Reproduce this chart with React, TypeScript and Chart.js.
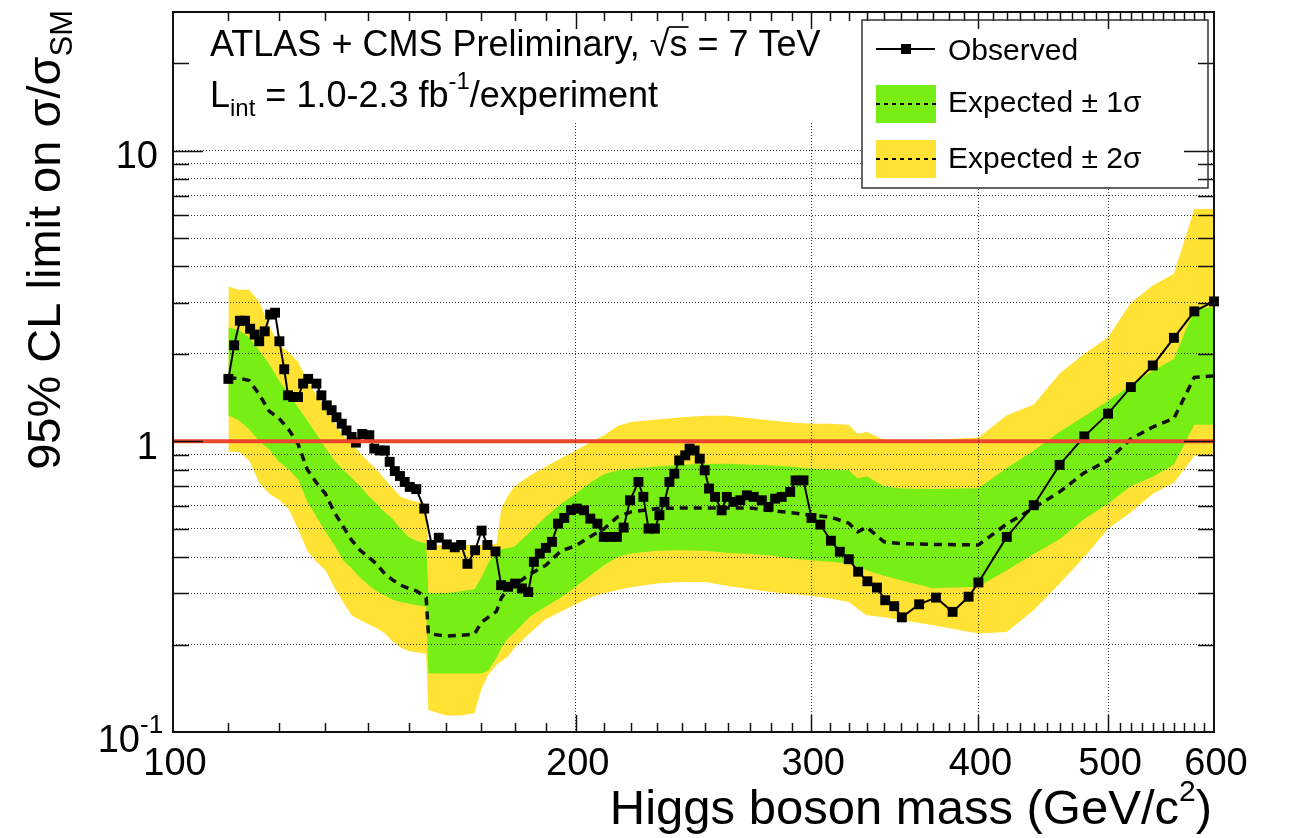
import React, { useEffect, useRef } from "react";
import { Chart, registerables } from "chart.js";

Chart.register(...registerables);

// ---------------- data ----------------
const obsMass = [
  110, 111.1, 112.2, 113.2, 114.2, 115.1, 116.0, 117.1, 118.2, 119.2, 120.1, 121.1, 121.9, 123.0, 124.0,
  125.1, 126.2, 128.0, 129.1, 130.3, 131.4, 132.5, 133.7, 134.8, 136.0, 137.0, 138.5, 140.2, 141.4, 142.8,
  144.0, 145.2, 146.5, 147.8, 149.0, 150.3, 152.0, 154.1, 156.1, 158.0, 160.2, 162.4, 164.2, 166.0, 168.2,
  170.1, 171.8, 174.2, 175.9, 178.0, 180.2, 182.3, 184.3, 186.1, 188.0, 190.0, 192.0, 194.0, 196.1, 198.4,
  200.4, 202.9, 205.1, 207.6, 209.9, 212.3, 214.7, 217.2, 219.6, 222.8, 224.7, 226.7, 229.2, 231.0, 233.0,
  235.0, 237.0, 239.0, 241.5, 243.3, 245.4, 247.6, 249.7, 251.6, 254.2, 257.1, 259.4, 262.4, 265.5, 268.5,
  271.7, 275.5, 278.7, 281.9, 285.1, 289.3, 292.0, 296.0, 300.1, 304.7, 310.3, 315.1, 320.0, 325.2, 330.4,
  335.9, 340.7, 346.0, 350.6, 361.2, 371.8, 382.6, 393.3, 400, 420, 440, 460, 480, 500, 520, 540, 560, 580, 600,
];
const obsLimit = [
  1.64, 2.14, 2.6, 2.6, 2.44, 2.33, 2.21, 2.39, 2.73, 2.77, 2.21, 1.77, 1.44, 1.42, 1.42,
  1.58, 1.64, 1.58, 1.44, 1.33, 1.28, 1.21, 1.15, 1.09, 1.035, 0.99, 1.06, 1.05, 0.944, 0.93,
  0.93, 0.85, 0.79, 0.76, 0.725, 0.697, 0.685, 0.587, 0.44, 0.466, 0.442, 0.432, 0.44, 0.379, 0.422,
  0.493, 0.44, 0.418, 0.32, 0.316, 0.324, 0.312, 0.303, 0.385, 0.411, 0.43, 0.451, 0.521, 0.545, 0.58,
  0.587, 0.579, 0.542, 0.521, 0.469, 0.469, 0.469, 0.505, 0.627, 0.725, 0.644, 0.501, 0.501, 0.557, 0.619,
  0.725, 0.774, 0.86, 0.895, 0.944, 0.93, 0.872, 0.795, 0.688, 0.644, 0.579, 0.644, 0.619, 0.627, 0.652,
  0.644, 0.627, 0.595, 0.635, 0.644, 0.67, 0.734, 0.734, 0.545, 0.517, 0.455, 0.417, 0.393, 0.356, 0.33,
  0.314, 0.284, 0.271, 0.248, 0.275, 0.29, 0.259, 0.292, 0.327, 0.469, 0.603, 0.83, 1.04, 1.245, 1.537, 1.824, 2.27, 2.8, 3.03,
];

const bandMass = [
  110, 112, 114, 116, 118, 120, 122, 124, 126, 128, 130, 132, 134, 136, 138, 140, 142, 144, 146, 148, 150, 152, 154.6,
  155.2, 160, 164, 168, 170, 172, 174.5, 176, 178, 180, 185, 190, 195, 200, 205, 210, 215, 220, 230, 240, 250, 260,
  270, 280, 290, 300, 310, 320, 325, 330, 340, 350, 370, 400, 420, 440, 460, 480, 500, 520, 540, 560, 580, 600,
];
const expMedian = [
  1.65, 1.65, 1.62, 1.45, 1.27, 1.2, 1.1, 0.98, 0.8, 0.72, 0.66, 0.57, 0.51, 0.457, 0.422, 0.4, 0.378, 0.35, 0.333, 0.32, 0.312, 0.306, 0.29,
  0.218, 0.214, 0.215, 0.217, 0.238, 0.248, 0.26, 0.29, 0.31, 0.32, 0.35, 0.375, 0.42, 0.437, 0.47, 0.5, 0.55, 0.572, 0.587, 0.59, 0.59, 0.59,
  0.59, 0.578, 0.568, 0.557, 0.549, 0.523, 0.488, 0.507, 0.451, 0.445, 0.442, 0.44, 0.52, 0.59, 0.67, 0.78, 0.86, 1.02, 1.12, 1.2, 1.66, 1.68,
];
const band1Up = [
  2.47, 2.41, 2.28, 2.05, 1.85, 1.62, 1.46, 1.31, 1.18, 1.06, 0.95, 0.86, 0.8, 0.75, 0.7, 0.65, 0.61, 0.57, 0.54, 0.5, 0.47, 0.455, 0.445,
  0.3, 0.3, 0.305, 0.31, 0.34, 0.38, 0.42, 0.425, 0.43, 0.435, 0.49, 0.55, 0.61, 0.66, 0.72, 0.77, 0.795, 0.805, 0.82, 0.83, 0.835, 0.838,
  0.83, 0.825, 0.82, 0.805, 0.8, 0.795, 0.745, 0.758, 0.7, 0.688, 0.685, 0.69, 0.81, 0.93, 1.08, 1.22, 1.38, 1.56, 1.75, 1.92, 2.85, 2.9,
];
const band1Down = [
  1.23, 1.18, 1.1, 1.0, 0.94, 0.85, 0.8, 0.74, 0.62, 0.55, 0.49, 0.44, 0.39, 0.365, 0.34, 0.32, 0.305, 0.295, 0.285, 0.28, 0.277, 0.273, 0.27,
  0.159, 0.159, 0.159, 0.159, 0.159, 0.162, 0.18, 0.195, 0.21, 0.22, 0.25, 0.27, 0.29, 0.316, 0.345, 0.375, 0.4, 0.411, 0.42, 0.422, 0.42, 0.413,
  0.41, 0.405, 0.395, 0.39, 0.385, 0.38, 0.37, 0.36, 0.345, 0.333, 0.312, 0.316, 0.36, 0.41, 0.46, 0.54, 0.61, 0.7, 0.755, 0.83, 1.14, 1.14,
];
const band2Up = [
  3.41, 3.32, 3.32, 3.02, 2.5, 2.15, 2.03, 1.88, 1.62, 1.44, 1.3, 1.16, 1.05, 0.98, 0.91, 0.85, 0.8, 0.74, 0.69, 0.645, 0.63, 0.62, 0.61,
  0.44, 0.44, 0.44, 0.44, 0.44, 0.44, 0.445, 0.59, 0.65, 0.7, 0.765, 0.82, 0.875, 0.93, 0.99, 1.05, 1.13, 1.165, 1.19, 1.21, 1.225, 1.225,
  1.2, 1.18, 1.16, 1.15, 1.15, 1.14, 1.06, 1.08, 1.01, 1.0, 1.01, 1.03, 1.23, 1.34, 1.71, 2.0, 2.28, 3.0, 3.44, 3.77, 6.3, 6.3,
];
const band2Down = [
  0.92, 0.92, 0.86, 0.72, 0.66, 0.63, 0.585, 0.5, 0.42, 0.385, 0.36, 0.315, 0.28, 0.252, 0.243, 0.235, 0.228, 0.218, 0.205, 0.195, 0.19, 0.188, 0.186,
  0.119, 0.114, 0.114, 0.116, 0.14, 0.157, 0.17, 0.175, 0.182, 0.195, 0.22, 0.245, 0.26, 0.275, 0.29, 0.3, 0.308, 0.315, 0.324, 0.328, 0.328, 0.318,
  0.31, 0.303, 0.298, 0.294, 0.288, 0.28, 0.265, 0.252, 0.248, 0.243, 0.233, 0.218, 0.221, 0.263, 0.324, 0.4, 0.5, 0.57, 0.66, 0.72, 0.89, 0.89,
];

const smMass = [100, 600];
const smRatio = [1, 1];

const xTickValues = [100, 200, 300, 400, 500, 600];
const xTickLabels = ["100", "200", "300", "400", "500", "600"];
const xGridValues = [200, 300, 400, 500];
const xMinorStep = 10;
const yTickValues = [0.2, 0.3, 0.4, 0.5, 0.6, 0.7, 0.8, 0.9, 1, 2, 3, 4, 5, 6, 7, 8, 9, 10, 20];
const yMajorValues = [1, 10];
const yGridValues = [0.2, 0.3, 0.4, 0.5, 0.6, 0.7, 0.8, 0.9, 2, 3, 4, 5, 6, 7, 8, 9, 10];

const GREEN = "#77ee14";
const YELLOW = "#ffe233";
const RED = "#e9472b";
const FONT = '"Liberation Sans", Arial, Helvetica, sans-serif';

const pts = (xs: number[], ys: number[]) => xs.map((x, i) => ({ x, y: ys[i] }));

const rootStyle = {
  id: "rootStyle",
  afterDraw(chart: any) {
    const { ctx, chartArea: a, scales } = chart;
    const xs = scales.x;
    const ys = scales.y;
    ctx.save();

    // white panes (title text and legend)
    ctx.fillStyle = "#fff";
    ctx.fillRect(176, 14, 680, 108);
    ctx.fillRect(862, 20, 346, 168);

    // frame
    ctx.strokeStyle = "#111";
    ctx.lineWidth = 2;
    ctx.strokeRect(a.left, a.top, a.right - a.left, a.bottom - a.top);

    // inward ticks
    ctx.lineWidth = 1.5;
    ctx.beginPath();
    for (let m = xTickValues[0] + xMinorStep; m < xTickValues[xTickValues.length - 1]; m += xMinorStep) {
      const px = Math.round(xs.getPixelForValue(m)) + 0.5;
      const len = xGridValues.includes(m) ? 17 : 9;
      ctx.moveTo(px, a.bottom);
      ctx.lineTo(px, a.bottom - len);
      ctx.moveTo(px, a.top);
      ctx.lineTo(px, a.top + len);
    }
    yTickValues.forEach((v) => {
      const py = Math.round(ys.getPixelForValue(v)) + 0.5;
      const len = yMajorValues.includes(v) ? 30 : 16;
      ctx.moveTo(a.left, py);
      ctx.lineTo(a.left + len, py);
      ctx.moveTo(a.right, py);
      ctx.lineTo(a.right - len, py);
    });
    ctx.stroke();

    // tick labels
    ctx.fillStyle = "#000";
    ctx.font = `38px ${FONT}`;
    ctx.textBaseline = "alphabetic";
    ctx.textAlign = "center";
    xTickValues.forEach((v, i) => {
      ctx.fillText(xTickLabels[i], xs.getPixelForValue(v) + 2, a.bottom + 43);
    });
    ctx.textAlign = "right";
    ctx.fillText("10", 158, ys.getPixelForValue(10) + 17);
    ctx.fillText("1", 158, ys.getPixelForValue(1) + 18);
    ctx.fillText("10", 140, ys.getPixelForValue(0.1) + 20);
    ctx.font = `26px ${FONT}`;
    ctx.textAlign = "left";
    ctx.fillText("-1", 140, ys.getPixelForValue(0.1) + 1);

    // axis titles
    const xt1 = "Higgs boson mass (GeV/c";
    ctx.font = `30px ${FONT}`;
    const wSup = ctx.measureText("2").width;
    ctx.font = `49px ${FONT}`;
    const wPar = ctx.measureText(")").width;
    const w1 = ctx.measureText(xt1).width;
    const xEnd = 1212;
    const xStart = xEnd - wPar - wSup - w1;
    ctx.textAlign = "left";
    ctx.fillText(xt1, xStart, 824);
    ctx.fillText(")", xStart + w1 + wSup, 824);
    ctx.font = `30px ${FONT}`;
    ctx.fillText("2", xStart + w1, 801);

    ctx.save();
    ctx.translate(60, 10);
    ctx.rotate(-Math.PI / 2);
    ctx.font = `47px ${FONT}`;
    const yt = "95% CL limit on \u03c3/\u03c3";
    const wy = ctx.measureText(yt).width;
    ctx.font = `31px ${FONT}`;
    const wsm = ctx.measureText("SM").width;
    ctx.font = `47px ${FONT}`;
    ctx.fillText(yt, -wy - wsm, 0);
    ctx.font = `31px ${FONT}`;
    ctx.fillText("SM", -wsm, 12);
    ctx.restore();

    // header text
    const hx = 210;
    const hf = 36;
    ctx.font = `${hf}px ${FONT}`;
    const h1 = "ATLAS + CMS Preliminary, ";
    ctx.fillText(h1, hx, 56);
    let cx = hx + ctx.measureText(h1).width;
    ctx.fillText("\u221a", cx, 56);
    const wRoot = ctx.measureText("\u221a").width;
    cx += wRoot;
    ctx.fillText("s", cx, 56);
    const wS = ctx.measureText("s").width;
    ctx.lineWidth = 1.8;
    ctx.beginPath();
    ctx.moveTo(cx - 1, 27);
    ctx.lineTo(cx + wS + 1, 27);
    ctx.stroke();
    cx += wS;
    ctx.fillText(" = 7 TeV", cx, 56);

    ctx.font = `${hf}px ${FONT}`;
    ctx.fillText("L", hx, 107);
    cx = hx + ctx.measureText("L").width;
    ctx.font = `24px ${FONT}`;
    ctx.fillText("int", cx, 116);
    cx += ctx.measureText("int").width;
    ctx.font = `${hf}px ${FONT}`;
    const l2 = " = 1.0-2.3 fb";
    ctx.fillText(l2, cx, 107);
    cx += ctx.measureText(l2).width;
    ctx.font = `24px ${FONT}`;
    ctx.fillText("-1", cx, 89);
    cx += ctx.measureText("-1").width;
    ctx.font = `${hf}px ${FONT}`;
    ctx.fillText("/experiment", cx, 107);

    // legend
    ctx.strokeStyle = "#333";
    ctx.lineWidth = 1.5;
    ctx.strokeRect(862, 20, 346, 168);
    ctx.strokeStyle = "#000";
    ctx.lineWidth = 2;
    ctx.beginPath();
    ctx.moveTo(876, 49);
    ctx.lineTo(935, 49);
    ctx.stroke();
    ctx.fillStyle = "#000";
    ctx.fillRect(901, 44, 10, 10);
    ctx.fillStyle = GREEN;
    ctx.fillRect(876, 85, 60, 38);
    ctx.fillStyle = YELLOW;
    ctx.fillRect(876, 140, 60, 38);
    ctx.strokeStyle = "#000";
    ctx.lineWidth = 2;
    ctx.setLineDash([4, 4]);
    ctx.beginPath();
    ctx.moveTo(876, 104);
    ctx.lineTo(936, 104);
    ctx.moveTo(876, 159);
    ctx.lineTo(936, 159);
    ctx.stroke();
    ctx.setLineDash([]);
    ctx.fillStyle = "#000";
    ctx.font = `30px ${FONT}`;
    ctx.fillText("Observed", 948, 60);
    ctx.fillText("Expected \u00b1 1\u03c3", 948, 112);
    ctx.fillText("Expected \u00b1 2\u03c3", 948, 168);

    ctx.restore();
  },
};

export default function App() {
  const ref = useRef<HTMLCanvasElement>(null);
  useEffect(() => {
    if (!ref.current) return;
    const chart = new Chart(ref.current, {
      type: "line",
      data: {
        datasets: [
          { label: "SM", data: pts(smMass, smRatio), borderColor: RED, borderWidth: 4, pointRadius: 0, fill: false },
          {
            label: "Observed", data: pts(obsMass, obsLimit), borderColor: "#000", borderWidth: 2,
            pointStyle: "rect", pointRadius: 7, pointBackgroundColor: "#000", pointBorderWidth: 0, fill: false, clip: false,
          },
          { label: "Expected", data: pts(bandMass, expMedian), borderColor: "#111", borderWidth: 3.5, borderDash: [8, 6], pointRadius: 0, fill: false },
          { label: "Expected +1s", data: pts(bandMass, band1Up), borderColor: "transparent", borderWidth: 0, pointRadius: 0, fill: "+1", backgroundColor: GREEN },
          { label: "Expected -1s", data: pts(bandMass, band1Down), borderColor: "transparent", borderWidth: 0, pointRadius: 0, fill: false },
          { label: "Expected +2s", data: pts(bandMass, band2Up), borderColor: "transparent", borderWidth: 0, pointRadius: 0, fill: "+1", backgroundColor: YELLOW },
          { label: "Expected -2s", data: pts(bandMass, band2Down), borderColor: "transparent", borderWidth: 0, pointRadius: 0, fill: false },
        ],
      } as any,
      options: {
        responsive: false,
        animation: false,
        events: [],
        layout: { padding: { left: 173, top: 12, right: 77, bottom: 106 } },
        plugins: { legend: { display: false }, tooltip: { enabled: false } },
        scales: {
          x: {
            type: "logarithmic", min: 100, max: 600,
            afterBuildTicks: (s: any) => { s.ticks = xGridValues.map((v) => ({ value: v })); },
            ticks: { display: false },
            grid: { color: "rgba(0,0,0,0.8)", lineWidth: 1, drawTicks: false, z: 1 },
            border: { display: false, dash: [1, 2] },
          },
          y: {
            type: "logarithmic", min: 0.1, max: 30,
            afterBuildTicks: (s: any) => { s.ticks = yGridValues.map((v) => ({ value: v })); },
            ticks: { display: false },
            grid: { color: "rgba(0,0,0,0.8)", lineWidth: 1, drawTicks: false, z: 1 },
            border: { display: false, dash: [1, 2] },
          },
        },
      } as any,
      plugins: [rootStyle],
    });
    return () => chart.destroy();
  }, []);
  return (
    <div style={{ position: "absolute", left: 0, top: 0, width: 1291, height: 838, background: "#fff" }}>
      <canvas ref={ref} width={1291} height={838} style={{ display: "block" }} />
    </div>
  );
}
